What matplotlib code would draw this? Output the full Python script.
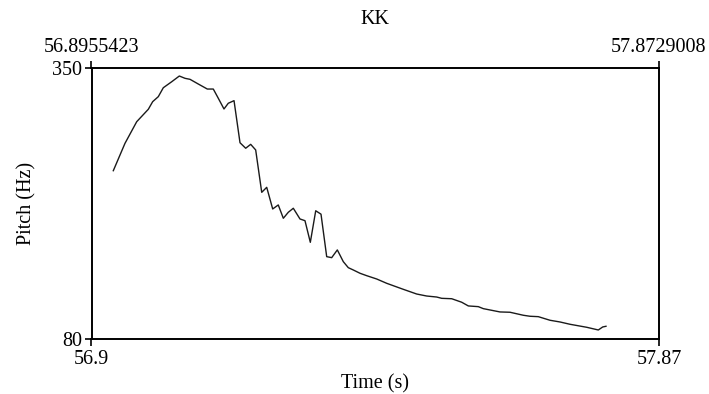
import matplotlib
matplotlib.use("Agg")
from matplotlib import pyplot as plt

# pitch track
t_start = 56.8955423
t_end = 57.8729008
f_min = 80
f_max = 350

times = [56.9331, 56.9532, 56.9734, 56.9934, 57.0009, 57.0106, 57.0192, 57.0337,
         57.0468, 57.0566, 57.0652, 57.0795, 57.0950, 57.1053, 57.1139, 57.1237,
         57.1311, 57.1410, 57.1513, 57.1611, 57.1697, 57.1783, 57.1887, 57.1973,
         57.2076, 57.2172, 57.2259, 57.2345, 57.2431, 57.2546, 57.2632, 57.2724,
         57.2817, 57.2908, 57.3006, 57.3092, 57.3189, 57.3292, 57.3378, 57.3464,
         57.3580, 57.3695, 57.3867, 57.4039, 57.4153, 57.4325, 57.4556, 57.4728,
         57.4900, 57.4987, 57.5159, 57.5331, 57.5445, 57.5617, 57.5703, 57.5991,
         57.6163, 57.6392, 57.6507, 57.6650, 57.6852, 57.7024, 57.7196, 57.7484,
         57.7684, 57.7759, 57.7816]
pitch = [247.5, 274.8, 296.4, 308.8, 316.4, 321.4, 330.3, 336.3, 342.0, 339.7,
         338.7, 334.0, 329.0, 329.0, 319.8, 309.1, 314.8, 317.4, 275.4, 269.9,
         273.8, 268.2, 225.9, 230.9, 209.3, 213.3, 200.0, 206.0, 210.0, 199.3,
         197.6, 176.0, 207.5, 204.1, 161.7, 160.7, 168.4, 156.7, 150.7, 148.4,
         145.1, 142.7, 139.4, 135.1, 132.7, 129.1, 124.4, 122.4, 121.4, 120.1,
         119.7, 116.2, 112.5, 111.8, 109.8, 106.5, 106.2, 103.2, 102.2, 101.8,
         98.2, 96.5, 94.2, 91.2, 88.5, 91.5, 92.2]

bottom_labels = ["56.9", "57.87"]
top_labels = ["56.8955423", "57.8729008"]

plt.rcParams['font.family'] = ['Liberation Serif', 'DejaVu Serif']
plt.rcParams['font.size'] = 14.5

fig = plt.figure(figsize=(7.09, 3.94), dpi=100)
ax = fig.add_axes([91.5 / 709, 55.5 / 394, 567.5 / 709, 270.5 / 394])

ax.plot(times, pitch, color="#1a1a1a", lw=1.0)

ax.set_xlim(t_start, t_end)
ax.set_ylim(f_min, f_max)

for s in ax.spines.values():
    s.set_linewidth(1.4)

ax.set_xticks([t_start, t_end])
ax.set_xticklabels(bottom_labels)
ax.set_yticks([f_min, f_max])
ax.set_yticklabels([str(f_min), str(f_max)])
ax.tick_params(direction="out", length=5, width=1.2, pad=2)
ax.tick_params(axis="x", pad=3)

top = ax.secondary_xaxis("top")
top.set_xticks([t_start, t_end])
top.set_xticklabels(top_labels)
top.tick_params(direction="out", length=5, width=1.2, pad=3)
top.spines["top"].set_visible(False)

ax.set_xlabel("Time (s)", labelpad=4)
ax.set_ylabel("Pitch (Hz)", labelpad=11)

fig.text(0.529, 1 - 19 / 394, "KK", ha="center", va="center")

fig.savefig("out.png", dpi=100)
